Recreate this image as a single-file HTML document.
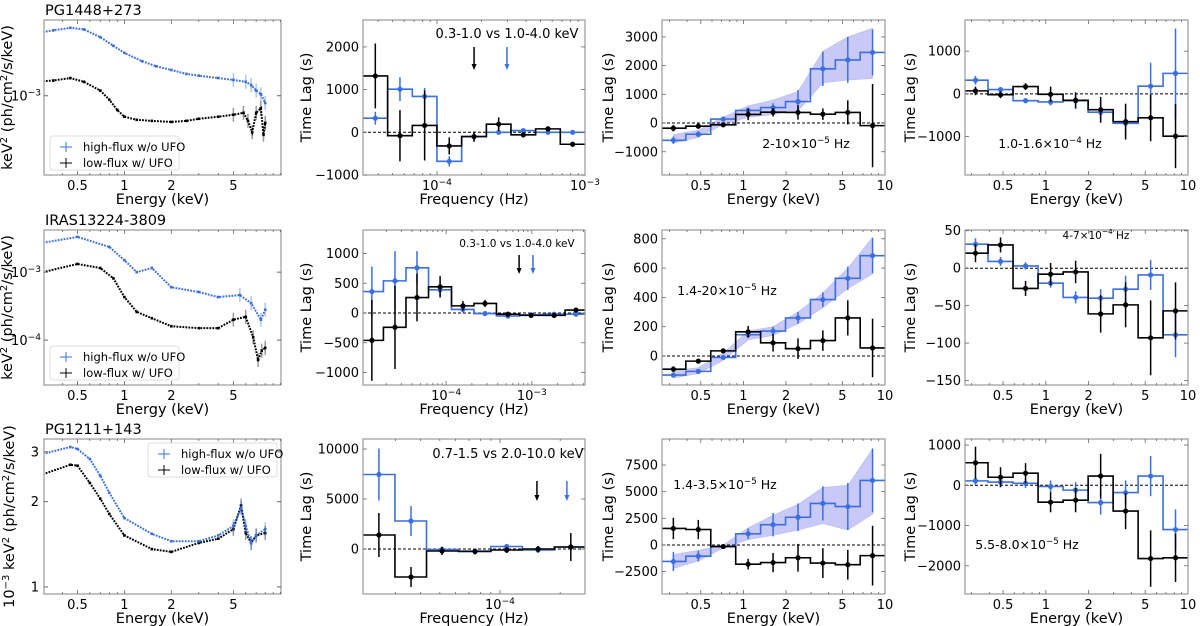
<!DOCTYPE html>
<html><head><meta charset="utf-8">
<style>
html,body{margin:0;padding:0;background:#fff;}
svg{display:block;font-family:"DejaVu Sans","Liberation Sans",sans-serif;}
</style></head>
<body>
<svg id="fig" xmlns="http://www.w3.org/2000/svg" width="1200" height="626" viewBox="0 0 1200 626"></svg>
<script>
// ---------------- DATA ----------------
const E_CENTERS=[0.32,0.48,0.72,1.08,1.62,2.43,3.64,5.46,8.17];
// Row 1 spectra (flux in units of 1e-3)
const r1_specE_hi=[0.3,0.35,0.45,0.55,0.7,0.85,1,1.3,1.6,2,2.5,3,4,5,6,6.5,7,7.5,8];
const r1_specF_hi=[2.30,2.35,2.43,2.38,2.15,1.92,1.75,1.57,1.47,1.40,1.33,1.30,1.26,1.23,1.20,1.15,1.07,1.02,0.91];
const r1_specE_lo=[0.3,0.35,0.45,0.55,0.7,0.8,0.9,1,1.2,1.5,2,2.5,3,4,5,5.8,6.2,6.6,7,7.5,7.8,8];
const r1_specF_lo=[1.21,1.22,1.26,1.20,1.07,0.95,0.83,0.76,0.73,0.72,0.71,0.72,0.74,0.76,0.78,0.80,0.72,0.62,0.80,0.85,0.60,0.70];
// Row 2 spectra (absolute)
const r2_specE_hi=[0.3,0.5,0.8,1,1.2,1.5,2,3,4,5.5,6.5,7.5,8];
const r2_specF_hi=[2.7e-3,3.3e-3,2.35e-3,1.5e-3,1.0e-3,1.15e-3,6.0e-4,5.1e-4,4.3e-4,4.6e-4,3.5e-4,2.0e-4,2.8e-4];
const r2_specE_lo=[0.3,0.5,0.7,0.85,1,1.2,1.5,2,3,4,5,6,6.7,7.2,7.6,8];
const r2_specF_lo=[1.0e-3,1.32e-3,1.15e-3,8.1e-4,4.3e-4,2.6e-4,2.1e-4,1.6e-4,1.5e-4,1.5e-4,2.0e-4,2.2e-4,1.1e-4,5.1e-5,7e-5,7.7e-5];
// Row 3 spectra (units 1e-3)
const r3_specE_hi=[0.3,0.45,0.5,0.6,0.7,0.8,1,1.5,2,3,4,5,5.6,6,6.5,7,8];
const r3_specF_hi=[2.95,3.12,3.07,2.83,2.47,2.15,1.75,1.54,1.45,1.45,1.52,1.64,1.90,1.64,1.43,1.52,1.60];
const r3_specE_lo=[0.3,0.45,0.5,0.6,0.7,0.8,1,1.5,2,3,4,5,5.6,6,6.5,7,8];
const r3_specF_lo=[2.50,2.70,2.68,2.33,2.05,1.81,1.52,1.36,1.33,1.43,1.48,1.60,1.94,1.55,1.43,1.52,1.55];

// Row 1 lag-frequency
const r1c2_freq=[3.83e-5,5.62e-5,8.25e-5,1.21e-4,1.78e-4,2.61e-4,3.83e-4,5.62e-4,8.25e-4];
const r1c2_blue=[330,1010,840,-680,-100,0,40,0,0];
const r1c2_blueErr=[150,280,200,120,100,50,40,40,40];
const r1c2_black=[1320,-80,160,-320,-100,190,-60,80,-280];
const r1c2_blackErr=[760,600,820,200,120,160,60,60,40];
const r1c2_arrows=[1.78e-4,2.97e-4];
// Row 1 lag-energy
const r1c3_black=[-180,-110,-60,300,380,370,310,370,-90];
const r1c3_blackErr=[110,90,60,200,150,250,200,420,1450];
const r1c3_blue=[-600,-390,140,440,540,750,1890,2200,2460];
const r1c3_blueErr=[130,100,60,100,150,400,600,800,800];
const r1c3_bandLo=[-700,-500,-50,200,300,420,1400,1500,1550];
const r1c3_bandHi=[-400,-250,200,600,800,1100,2500,3000,3300];
const r1c4_black=[70,-20,170,-10,-150,-370,-650,-560,-990];
const r1c4_blackErr=[100,80,80,180,180,300,420,550,750];
const r1c4_blue=[320,100,-160,-190,-160,-430,-690,180,480];
const r1c4_blueErr=[100,60,60,80,200,250,350,550,1050];
// Row 2
const r2c2_freq=[1.36e-5,2.53e-5,4.57e-5,8.5e-5,1.57e-4,2.84e-4,5.25e-4,9.8e-4,1.82e-3,3.27e-3];
const r2c2_blue=[360,540,760,390,60,-10,-50,-30,-20,-20];
const r2c2_blueErr=[420,500,280,100,50,30,30,30,30,30];
const r2c2_black=[-460,-240,260,440,120,160,-20,-40,-40,50];
const r2c2_blackErr=[680,700,400,180,80,60,40,30,40,30];
const r2c2_arrows=[7.1e-4,1.03e-3];
const r2c3_black=[-90,-35,35,165,90,50,105,260,55];
const r2c3_blackErr=[20,15,15,40,60,70,70,120,200];
const r2c3_blue=[-130,-105,-10,145,170,260,385,530,685];
const r2c3_blueErr=[15,15,15,20,30,40,50,80,120];
const r2c3_bandLo=[-150,-120,-30,110,140,220,330,460,560];
const r2c3_bandHi=[-100,-80,20,170,200,300,430,600,810];
const r2c4_black=[20,31,-27,-8,-5,-61,-49,-93,-57];
const r2c4_blackErr=[12,10,10,15,15,25,30,50,38];
const r2c4_blue=[32,9,3,-20,-39,-40,-28,-9,-89];
const r2c4_blueErr=[8,6,5,6,8,12,18,20,30];
// Row 3
const r3c2_freq=[2.48e-5,3.59e-5,5.13e-5,7.5e-5,1.08e-4,1.55e-4,2.26e-4];
const r3c2_blue=[7450,2800,-50,-200,250,-100,200];
const r3c2_blueErr=[2600,1500,300,200,200,300,300];
const r3c2_black=[1400,-2800,-200,-250,-100,0,200];
const r3c2_blackErr=[2200,1000,400,300,300,300,1400];
const r3c2_arrows=[1.53e-4,2.16e-4];
const r3c3_black=[1550,1450,-150,-1800,-1650,-1200,-1700,-1850,-1000];
const r3c3_blackErr=[1000,900,200,500,900,1300,1400,1400,2800];
const r3c3_blue=[-1550,-1050,-150,1050,1900,2600,3900,3600,6050];
const r3c3_blueErr=[900,500,100,500,1100,1300,1600,2200,3000];
const r3c3_bandLo=[-2200,-1500,-300,500,900,1400,2000,1400,2900];
const r3c3_bandHi=[-900,-500,0,1600,2800,3800,5400,5600,9000];
const r3c4_black=[560,200,300,-420,-370,230,-640,-1820,-1800];
const r3c4_blackErr=[400,250,250,250,300,550,450,700,600];
const r3c4_blue=[110,80,50,-30,-120,-430,-180,230,-1100];
const r3c4_blueErr=[100,120,120,150,200,300,300,500,500];

// ---------------- DRAWING ----------------
const NS="http://www.w3.org/2000/svg";
const svg=document.getElementById('fig');
const BLUE="#3b6fe0", BLACK="#000", FRAME="#999";
function mk(tag,attrs,parent){const e=document.createElementNS(NS,tag);for(const k in attrs)e.setAttribute(k,attrs[k]);(parent||svg).appendChild(e);return e;}
function logS(d0,d1,r0,r1){const a=Math.log10(d0),b=Math.log10(d1);return v=>r0+(Math.log10(v)-a)/(b-a)*(r1-r0);}
function linS(d0,d1,r0,r1){return v=>r0+(v-d0)/(d1-d0)*(r1-r0);}
function edgesFrom(c){const e=[];e.push(c[0]/Math.sqrt(c[1]/c[0]));for(let i=0;i<c.length-1;i++)e.push(Math.sqrt(c[i]*c[i+1]));const n=c.length;e.push(c[n-1]*Math.sqrt(c[n-1]/c[n-2]));return e;}
function supText(g,x,y,base,sup,anchor,size){
  const t=mk('text',{x:x,y:y,'text-anchor':anchor||'middle','font-size':size||13,fill:'#000'},g);
  t.appendChild(document.createTextNode(base));
  const s=mk('tspan',{dy:-5,'font-size':(size||13)*0.7},t);s.textContent=sup;
  return t;
}
const COLS=[[44,281],[363,585],[662,885],[965,1188]];
const ROWS=[[20,175],[230,385],[439,594]];

function frame(g,x0,x1,y0,y1){
  const r=mk('rect',{x:x0,y:y0,width:x1-x0,height:y1-y0,fill:'none',stroke:FRAME,'stroke-width':1.2},g);
  
  
}
function xLogTicks(g,sx,d0,d1,y0,y1,majors,labelFn){
  const ax=mk('g',{},g);
  
  
  for(let p=Math.floor(Math.log10(d0));p<=Math.ceil(Math.log10(d1));p++){
    for(let m=1;m<10;m++){const v=m*Math.pow(10,p);if(v<d0*1.001||v>d1*0.999)continue;
      const x=sx(v);const L=majors.some(M=>Math.abs(M-v)/v<1e-6)?4:2;
      mk('line',{x1:x,x2:x,y1:y1,y2:y1-L,stroke:'#666','stroke-width':0.8},ax);
      mk('line',{x1:x,x2:x,y1:y0,y2:y0+L,stroke:'#666','stroke-width':0.8},ax);}
  }
  majors.forEach(v=>{labelFn(ax,sx(v),y1+15,v);});
}
function yLinTicks(g,sy,x0,x1,ticks){
  const ax=mk('g',{},g);
  
  
  ticks.forEach(v=>{const y=sy(v);
    mk('line',{x1:x0,x2:x0+4,y1:y,y2:y,stroke:'#666','stroke-width':0.8},ax);
    mk('line',{x1:x1,x2:x1-4,y1:y,y2:y,stroke:'#666','stroke-width':0.8},ax);
    const t=mk('text',{x:x0-4,y:y+4.5,'text-anchor':'end','font-size':13},ax);
    t.textContent=(v<0?'\u2212':'')+Math.abs(v);
  });
}
function eLabel(ax,x,y,v){const t=mk('text',{x:x,y:y,'text-anchor':'middle','font-size':13},ax);t.textContent=String(v);}
function fLabel(ax,x,y,v){supText(ax,x,y,'10','\u2212'+Math.round(-Math.log10(v)),'middle',13);}
function xTitle(g,x0,x1,y1,txt){const t=mk('text',{x:(x0+x1)/2,y:y1+29,'text-anchor':'middle','font-size':14.5},g);t.textContent=txt;
  
  }
function yTitle(g,x,yc,txt,sup){const t=mk('text',{x:0,y:0,'text-anchor':'middle','font-size':14.5,transform:`translate(${x},${yc}) rotate(-90)`},g);
  
  
  if(!sup){t.textContent=txt;return;}
  txt.forEach((p,i)=>{const s=mk('tspan',{},t);if(i%2===1){s.setAttribute('dy',-5);s.setAttribute('font-size',10);}else if(i>0){s.setAttribute('dy',5);}s.textContent=p;});
}
function errPoints(g,sx,sy,xs,ys,es,color,name){
  const grp=mk('g',{},g);
  
  
  xs.forEach((xv,i)=>{const x=sx(xv);
    mk('line',{x1:x,x2:x,y1:sy(ys[i]-es[i]),y2:sy(ys[i]+es[i]),stroke:color,'stroke-width':1.5},grp);
    mk('circle',{cx:x,cy:sy(ys[i]),r:2.6,fill:color},grp);});
}
function steps(g,sx,sy,xs,ys,color,name){
  const ed=edgesFrom(xs);let d='';
  ys.forEach((v,i)=>{const y=sy(v);d+=(i===0?'M':'L')+sx(ed[i])+','+y+' L'+sx(ed[i+1])+','+y+' ';});
  const p=mk('path',{d:d,fill:'none',stroke:color,'stroke-width':1.6},g);
  
  
}
function clipFor(id,x0,x1,y0,y1){const cp=mk('clipPath',{id:id});mk('rect',{x:x0,y:y0,width:x1-x0,height:y1-y0},cp);}

function lagPanel(cfg){
  const [x0,x1]=COLS[cfg.col],[y0,y1]=ROWS[cfg.row];
  const g=mk('g',{});
  
  
  const sx=logS(cfg.xd[0],cfg.xd[1],x0,x1), sy=linS(cfg.yd[0],cfg.yd[1],y1,y0);
  const cid='c'+cfg.row+cfg.col;clipFor(cid,x0,x1,y0,y1);
  const inner=mk('g',{'clip-path':`url(#${cid})`},g);
  if(cfg.bandLo){let pts=cfg.x.map((v,i)=>sx(v)+','+sy(cfg.bandHi[i]));pts=pts.concat(cfg.x.map((v,i)=>sx(v)+','+sy(cfg.bandLo[i])).reverse());
    const b=mk('polygon',{points:pts.join(' '),fill:'#c9c9f7',stroke:'#b8b8f0','stroke-width':0.6},inner);
    
    }
  const z=mk('line',{x1:x0,x2:x1,y1:sy(0),y2:sy(0),stroke:'#000','stroke-width':1,'stroke-dasharray':'3,2'},inner);
  
  
  steps(inner,sx,sy,cfg.x,cfg.blue,BLUE,'high-flux-step');
  errPoints(inner,sx,sy,cfg.x,cfg.blue,cfg.blueErr,BLUE,'high-flux-points');
  steps(inner,sx,sy,cfg.x,cfg.black,BLACK,'low-flux-step');
  errPoints(inner,sx,sy,cfg.x,cfg.black,cfg.blackErr,BLACK,'low-flux-points');
  frame(g,x0,x1,y0,y1);
  xLogTicks(g,sx,cfg.xd[0],cfg.xd[1],y0,y1,cfg.xticks,cfg.freq?fLabel:eLabel);
  yLinTicks(g,sy,x0,x1,cfg.yticks);
  xTitle(g,x0,x1,y1,cfg.freq?'Frequency (Hz)':'Energy (keV)');
  yTitle(g,[0,311,613,915][cfg.col],(y0+y1)/2,'Time Lag (s)');
  if(cfg.arrows){cfg.arrows.forEach((f,i)=>{const x=sx(f),c=i===0?BLACK:BLUE;
    const a=mk('g',{},g);
    
    
    mk('line',{x1:x,x2:x,y1:cfg.arY[0],y2:cfg.arY[1]-4,stroke:c,'stroke-width':1.5},a);
    mk('polygon',{points:`${x-2.5},${cfg.arY[1]-5} ${x+2.5},${cfg.arY[1]-5} ${x},${cfg.arY[1]+1}`,fill:c},a);});}
  if(cfg.note){const n=cfg.note;let t;
    if(n.sup){t=mk('text',{x:n.x,y:n.y,'text-anchor':'middle','font-size':n.size},g);
      t.appendChild(document.createTextNode(n.a));const s=mk('tspan',{dy:-5,'font-size':n.size*0.7},t);s.textContent=n.sup;const r=mk('tspan',{dy:5},t);r.textContent=n.b;}
    else{t=mk('text',{x:n.x,y:n.y,'text-anchor':'middle','font-size':n.size},g);t.textContent=n.a;}
    
    }
}

function specPanel(cfg){
  const [x0,x1]=COLS[0],[y0,y1]=ROWS[cfg.row];
  const g=mk('g',{});
  
  
  const sx=logS(0.305,10.1,x0,x1), sy=logS(cfg.yd[0],cfg.yd[1],y1,y0);
  const cid='s'+cfg.row;clipFor(cid,x0,x1,y0,y1);
  const inner=mk('g',{'clip-path':`url(#${cid})`},g);
  [[cfg.eLo,cfg.fLo,'#000','low-flux-spectrum'],[cfg.eHi,cfg.fHi,BLUE,'high-flux-spectrum']].forEach(s=>{
    const grp=mk('g',{},inner);
    
    
    const pts=s[0].map((e,i)=>sx(e)+','+sy(s[1][i])).join(' ');
    mk('polyline',{points:pts,fill:'none',stroke:s[2],'stroke-width':2,'stroke-dasharray':'1.8,1.2'},grp);
    s[0].forEach((e,i)=>{mk('rect',{x:sx(e)-1.3,y:sy(s[1][i])-1.3,width:2.6,height:2.6,fill:s[2]},grp);
      if(e>4.5)mk('line',{x1:sx(e),x2:sx(e),y1:sy(s[1][i])-7,y2:sy(s[1][i])+7,stroke:s[2],'stroke-opacity':0.4,'stroke-width':1.5},grp);});
  });
  frame(g,x0,x1,y0,y1);
  xLogTicks(g,sx,0.305,10.1,y0,y1,[0.5,1,2,5],eLabel);
  const ax=mk('g',{},g);
  
  
  cfg.yticks.forEach(v=>{const y=sy(v);mk('line',{x1:x0,x2:x0+4,y1:y,y2:y,stroke:'#666'},ax);mk('line',{x1:x1,x2:x1-4,y1:y,y2:y,stroke:'#666'},ax);
    if(cfg.row===2){const t=mk('text',{x:x0-5,y:y+4.5,'text-anchor':'end','font-size':13},ax);t.textContent=String(v);}
    else supText(ax,x0-3,y+5,'10','\u2212'+Math.round(-Math.log10(v)),'end',13);});
  xTitle(g,x0,x1,y1,'Energy (keV)');
  if(cfg.row===2)yTitle(g,14,(y0+y1)/2,['10','\u22123',' keV','2',' (ph/cm','2','/s/keV)'],true);
  else yTitle(g,12,(y0+y1)/2,['keV','2',' (ph/cm','2','/s/keV)'],true);
  const tt=mk('text',{x:x0+1,y:y0-5,'font-size':14.5},g);tt.textContent=cfg.title;
  
  
  const L=cfg.leg,lg=mk('g',{},g);
  
  
  mk('rect',{x:L[0],y:L[1],width:L[2],height:34,rx:3,fill:'#fff',stroke:'#ddd'},lg);
  [['high-flux w/o UFO',BLUE],['low-flux w/ UFO','#000']].forEach((e,i)=>{const yy=L[1]+11+i*16;
    mk('line',{x1:L[0]+10,x2:L[0]+22,y1:yy,y2:yy,stroke:e[1],'stroke-width':1},lg);
    mk('line',{x1:L[0]+16,x2:L[0]+16,y1:yy-5,y2:yy+5,stroke:e[1],'stroke-width':1},lg);
    const t=mk('text',{x:L[0]+33,y:yy+4,'font-size':11.5},lg);t.textContent=e[0];
    
    });
}

specPanel({row:0,name:'spectrum-pg1448',title:'PG1448+273',eHi:r1_specE_hi,fHi:r1_specF_hi.map(v=>v*1e-3),eLo:r1_specE_lo,fLo:r1_specF_lo.map(v=>v*1e-3),yd:[Math.pow(10,-3.45),Math.pow(10,-2.57)],yticks:[1e-3],leg:[50,136,129]});
specPanel({row:1,name:'spectrum-iras13224',title:'IRAS13224-3809',eHi:r2_specE_hi,fHi:r2_specF_hi,eLo:r2_specE_lo,fLo:r2_specF_lo,yd:[Math.pow(10,-4.66),Math.pow(10,-2.38)],yticks:[1e-4,1e-3],leg:[50,346,129]});
specPanel({row:2,name:'spectrum-pg1211',title:'PG1211+143',eHi:r3_specE_hi,fHi:r3_specF_hi,eLo:r3_specE_lo,fLo:r3_specF_lo,yd:[0.944,3.33],yticks:[1,2,3],leg:[148,443,129]});

lagPanel({row:0,col:1,name:'lag-frequency-pg1448',freq:true,x:r1c2_freq,xd:[Math.pow(10,-4.5),1e-3],yd:[-1000,2630],xticks:[1e-4,1e-3],yticks:[-1000,0,1000,2000],blue:r1c2_blue,blueErr:r1c2_blueErr,black:r1c2_black,blackErr:r1c2_blackErr,arrows:r1c2_arrows,arY:[47,69],note:{x:507,y:38,size:13,a:'0.3-1.0 vs 1.0-4.0 keV'}});
lagPanel({row:0,col:2,name:'lag-energy-pg1448-low',x:E_CENTERS,xd:[0.266,10],yd:[-1810,3590],xticks:[0.5,1,2,5,10],yticks:[-1000,0,1000,2000,3000],blue:r1c3_blue,blueErr:r1c3_blueErr,black:r1c3_black,blackErr:r1c3_blackErr,bandLo:r1c3_bandLo,bandHi:r1c3_bandHi,note:{x:806,y:148,size:12.5,a:'2-10\u00d710',sup:'\u22125',b:' Hz'}});
lagPanel({row:0,col:3,name:'lag-energy-pg1448-high',x:E_CENTERS,xd:[0.27,10],yd:[-1900,1730],xticks:[0.5,1,2,5,10],yticks:[-1000,0,1000],blue:r1c4_blue,blueErr:r1c4_blueErr,black:r1c4_black,blackErr:r1c4_blackErr,note:{x:1050,y:148,size:12.5,a:'1.0-1.6\u00d710',sup:'\u22124',b:' Hz'}});

lagPanel({row:1,col:1,name:'lag-frequency-iras13224',freq:true,x:r2c2_freq,xd:[Math.pow(10,-4.97),Math.pow(10,-2.38)],yd:[-1210,1395],xticks:[1e-4,1e-3],yticks:[-1000,-500,0,500,1000],blue:r2c2_blue,blueErr:r2c2_blueErr,black:r2c2_black,blackErr:r2c2_blackErr,arrows:r2c2_arrows,arY:[255,273],note:{x:517,y:247,size:10.5,a:'0.3-1.0 vs 1.0-4.0 keV'}});
lagPanel({row:1,col:2,name:'lag-energy-iras13224-low',x:E_CENTERS,xd:[0.266,10],yd:[-198,860],xticks:[0.5,1,2,5,10],yticks:[0,200,400,600,800],blue:r2c3_blue,blueErr:r2c3_blueErr,black:r2c3_black,blackErr:r2c3_blackErr,bandLo:r2c3_bandLo,bandHi:r2c3_bandHi,note:{x:727,y:295,size:12.5,a:'1.4-20\u00d710',sup:'\u22125',b:' Hz'}});
lagPanel({row:1,col:3,name:'lag-energy-iras13224-high',x:E_CENTERS,xd:[0.27,10],yd:[-156,51],xticks:[0.5,1,2,5,10],yticks:[-150,-100,-50,0,50],blue:r2c4_blue,blueErr:r2c4_blueErr,black:r2c4_black,blackErr:r2c4_blackErr,note:{x:1096,y:239,size:10.5,a:'4-7\u00d710',sup:'\u22124',b:' Hz'}});

lagPanel({row:2,col:1,name:'lag-frequency-pg1211',freq:true,x:r3c2_freq,xd:[Math.pow(10,-4.685),Math.pow(10,-3.575)],yd:[-4500,11000],xticks:[1e-4],yticks:[0,5000,10000],blue:r3c2_blue,blueErr:r3c2_blueErr,black:r3c2_black,blackErr:r3c2_blackErr,arrows:r3c2_arrows,arY:[481,500],note:{x:508,y:458,size:13,a:'0.7-1.5 vs 2.0-10.0 keV'}});
lagPanel({row:2,col:2,name:'lag-energy-pg1211-low',x:E_CENTERS,xd:[0.266,10],yd:[-4600,9940],xticks:[0.5,1,2,5,10],yticks:[-2500,0,2500,5000,7500],blue:r3c3_blue,blueErr:r3c3_blueErr,black:r3c3_black,blackErr:r3c3_blackErr,bandLo:r3c3_bandLo,bandHi:r3c3_bandHi,note:{x:725,y:489,size:12.5,a:'1.4-3.5\u00d710',sup:'\u22125',b:' Hz'}});
lagPanel({row:2,col:3,name:'lag-energy-pg1211-high',x:E_CENTERS,xd:[0.27,10],yd:[-2700,1150],xticks:[0.5,1,2,5,10],yticks:[-2000,-1000,0,1000],blue:r3c4_blue,blueErr:r3c4_blueErr,black:r3c4_black,blackErr:r3c4_blackErr,note:{x:1027,y:549,size:12.5,a:'5.5-8.0\u00d710',sup:'\u22125',b:' Hz'}});
</script>
</body></html>
